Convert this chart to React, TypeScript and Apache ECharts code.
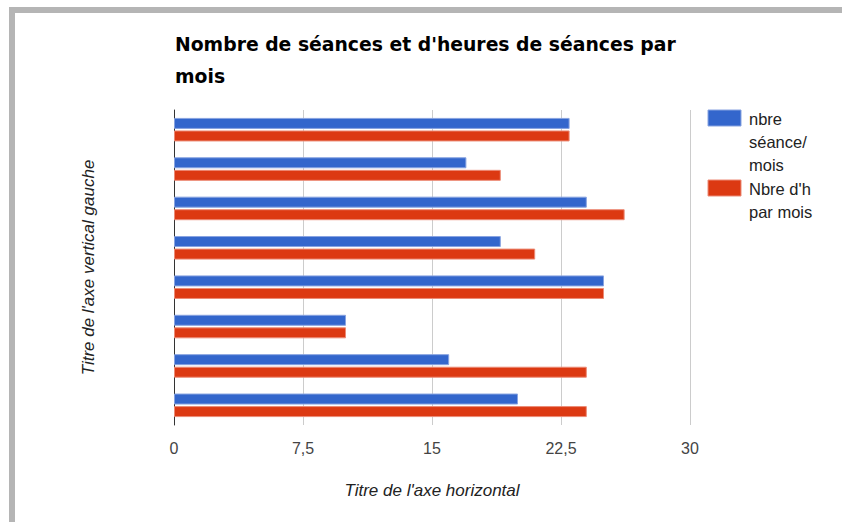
import React, { useEffect, useRef } from "react";
import * as echarts from "echarts";

const titleText = "Nombre de séances et d'heures de séances par\nmois";
const categories = ["1", "2", "3", "4", "5", "6", "7", "8"];
const seriesNames = ["nbre séance/ mois", "Nbre d'h par mois"];
const legendLabels = ["nbre\nséance/\nmois", "Nbre d'h\npar mois"];
const seancesValues = [23, 17, 24, 19, 25, 10, 16, 20];
const heuresValues = [23, 19, 26.2, 21, 25, 10, 24, 24];
const xTicks = [0, 7.5, 15, 22.5, 30];
const xAxisTitle = "Titre de l'axe horizontal";
const yAxisTitle = "Titre de l'axe vertical gauche";
const colors = ["#3366cc", "#dc3912"];
const borderColors = ["#88a3e0", "#ec8b76"];

export default function App() {
  const ref = useRef<HTMLDivElement>(null);
  useEffect(() => {
    document.body.style.margin = "0";
    if (!ref.current) return;
    const chart = echarts.init(ref.current, null, { renderer: "svg" });
    const font = "'Liberation Sans', Arial, sans-serif";
    chart.setOption({
      animation: false,
      backgroundColor: "#ffffff",
      title: {
        text: titleText,
        left: 175,
        top: 28,
        padding: 0,
        textStyle: {
          fontFamily: "'DejaVu Sans', sans-serif",
          fontWeight: "bold",
          fontSize: 18.8,
          lineHeight: 32,
          color: "#000000",
        },
      },
      grid: { left: 174, right: 152, top: 110, bottom: 97 },
      xAxis: {
        type: "value",
        min: xTicks[0],
        max: xTicks[xTicks.length - 1],
        interval: xTicks[1] - xTicks[0],
        name: xAxisTitle,
        nameLocation: "middle",
        nameGap: 57,
        nameTextStyle: {
          fontFamily: font,
          fontStyle: "italic",
          fontSize: 17,
          color: "#222222",
        },
        axisLine: { show: false },
        axisTick: { show: false },
        axisLabel: {
          margin: 15,
          fontFamily: font,
          fontSize: 16,
          color: "#444444",
          formatter: (v: number) => String(v).replace(".", ","),
        },
        splitLine: { show: true, lineStyle: { color: "#cccccc", width: 1 } },
      },
      yAxis: {
        type: "category",
        data: categories,
        inverse: true,
        name: yAxisTitle,
        nameLocation: "middle",
        nameRotate: 90,
        nameGap: 77,
        nameTextStyle: {
          fontFamily: font,
          fontStyle: "italic",
          fontSize: 17,
          color: "#222222",
        },
        axisLine: { show: true, lineStyle: { color: "#333333", width: 1 } },
        axisTick: { show: false },
        axisLabel: { show: false },
        splitLine: { show: false },
      },
      series: [
        {
          name: seriesNames[0],
          type: "bar",
          data: seancesValues,
          barWidth: 11,
          barGap: "14%",
          itemStyle: { color: colors[0], borderColor: borderColors[0], borderWidth: 1 },
        },
        {
          name: seriesNames[1],
          type: "bar",
          data: heuresValues,
          barWidth: 11,
          barGap: "14%",
          itemStyle: { color: colors[1], borderColor: borderColors[1], borderWidth: 1 },
        },
      ],
      graphic: [
        { type: "rect", shape: { x: 9, y: 7, width: 833, height: 6 }, style: { fill: "#b5b5b5" } },
        { type: "rect", shape: { x: 9, y: 7, width: 6, height: 515 }, style: { fill: "#b5b5b5" } },
        {
          type: "rect",
          shape: { x: 708, y: 110, width: 33, height: 16 },
          style: { fill: colors[0], stroke: borderColors[0], lineWidth: 1 },
        },
        {
          type: "text",
          x: 749,
          y: 107,
          style: {
            text: legendLabels[0],
            fontFamily: font,
            fontSize: 16.5,
            lineHeight: 23,
            fill: "#222222",
            verticalAlign: "top",
          },
        },
        {
          type: "rect",
          shape: { x: 708, y: 180, width: 33, height: 16 },
          style: { fill: colors[1], stroke: borderColors[1], lineWidth: 1 },
        },
        {
          type: "text",
          x: 749,
          y: 177,
          style: {
            text: legendLabels[1],
            fontFamily: font,
            fontSize: 16.5,
            lineHeight: 23,
            fill: "#222222",
            verticalAlign: "top",
          },
        },
      ],
    });
    return () => chart.dispose();
  }, []);
  return <div ref={ref} style={{ width: 842, height: 522 }} />;
}
